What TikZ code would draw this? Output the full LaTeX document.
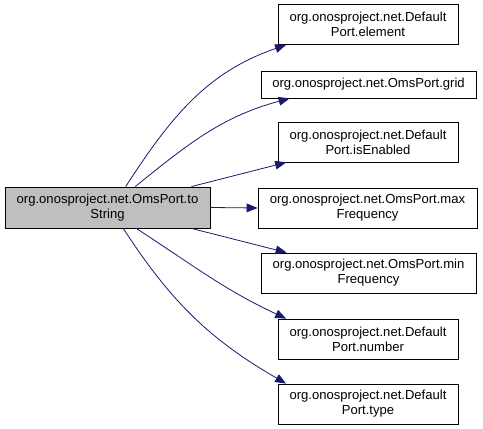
\documentclass[tikz,border=0pt]{standalone}
\usepackage{fontspec}
\setmainfont{Liberation Sans}
\usetikzlibrary{arrows.meta}
\definecolor{edgeblue}{HTML}{191970}
\definecolor{maingray}{HTML}{BFBFBF}
\begin{document}
\begin{tikzpicture}[x=0.75pt,y=0.75pt,
  fn/.style={draw=black,fill=white,align=center,inner sep=0pt,line width=0.6pt,
    font=\fontsize{9.8}{11.25}\selectfont,minimum height=30pt},
  call/.style={draw=edgeblue,line width=0.6pt,-{Triangle[length=8.25pt,width=6.5pt]},fill=none}]
\useasboundingbox (0,0) rectangle (483,429);

\node[fn,fill=maingray,minimum width=153.75pt,minimum height=30.75pt] (tostr) at (107.5,221.5) {org.onosproject.net.OmsPort.to\\String};

\node[fn,minimum width=135pt] (elem) at (368,404.5) {org.onosproject.net.Default\\Port.element};
\node[fn,minimum width=161.25pt,minimum height=20.25pt] (grid) at (368.5,344.5) {org.onosproject.net.OmsPort.grid};
\node[fn,minimum width=135pt] (isen) at (368,287) {org.onosproject.net.Default\\Port.isEnabled};
\node[fn,minimum width=164.25pt] (maxf) at (367.5,221) {org.onosproject.net.OmsPort.max\\Frequency};
\node[fn,minimum width=161.25pt] (minf) at (368.5,156) {org.onosproject.net.OmsPort.min\\Frequency};
\node[fn,minimum width=135pt] (num) at (368,90) {org.onosproject.net.Default\\Port.number};
\node[fn,minimum width=135pt] (type) at (368,25) {org.onosproject.net.Default\\Port.type};

\draw[call] (tostr.49) to[out=57,in=199] (elem.194);
\draw[call] (tostr.37) to[out=39,in=195] (grid.190);
\draw[call] (tostr.14) -- (isen.194);
\draw[call] (tostr.east) -- (maxf.west);
\draw[call] (tostr.-14) -- (minf.166);
\draw[call] (tostr.-36) to[out=-33,in=155] (num.166);
\draw[call] (tostr.-53) to[out=-57,in=150] (type.166);
\end{tikzpicture}
\end{document}
